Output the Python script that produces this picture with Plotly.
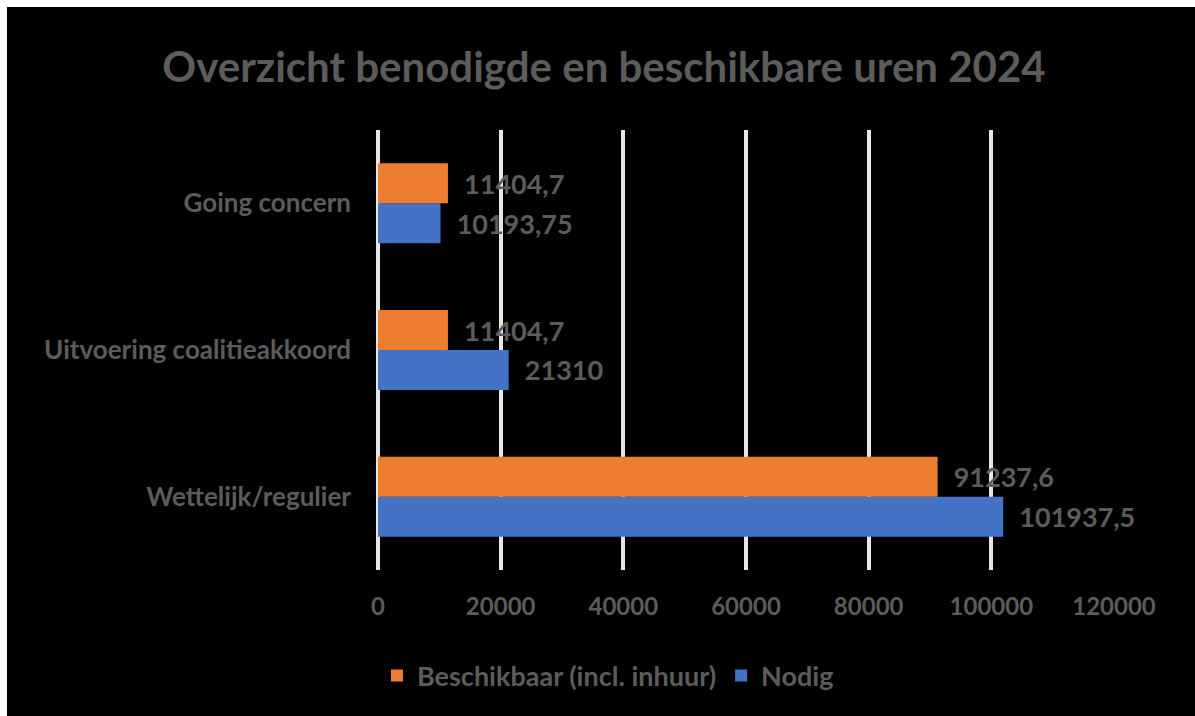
import plotly.graph_objects as go

categories = ["Wettelijk/regulier", "Uitvoering coalitieakkoord", "Going concern"]
nodig = [101937.5, 21310, 10193.75]
beschikbaar = [91237.6, 11404.7, 11404.7]
nodig_labels = ["101937,5", "21310", "10193,75"]
beschikbaar_labels = ["91237,6", "11404,7", "11404,7"]
x_ticks = [0, 20000, 40000, 60000, 80000, 100000, 120000]

GREY = "#5c5c5c"
FONT = "Lato"
PAD = "\u00a0\u00a0"
EXTRA = 30
W, H = 1188 + EXTRA, 709 + EXTRA

fig = go.Figure()
fig.add_trace(go.Bar(
    y=categories, x=nodig, orientation="h", name="Nodig",
    marker=dict(color="#4472C4", line=dict(width=0)),
    text=[PAD + t for t in nodig_labels], textposition="outside",
    textfont=dict(family=FONT, size=27, color=GREY, weight="bold"),
    cliponaxis=False, constraintext="none",
))
fig.add_trace(go.Bar(
    y=categories, x=beschikbaar, orientation="h", name="Beschikbaar (incl. inhuur)",
    marker=dict(color="#ED7D31", line=dict(width=0)),
    text=[PAD + t for t in beschikbaar_labels], textposition="outside",
    textfont=dict(family=FONT, size=27, color=GREY, weight="bold"),
    cliponaxis=False, constraintext="none",
))

fig.update_layout(
    width=W, height=H,
    paper_bgcolor="black", plot_bgcolor="black",
    margin=dict(l=371, r=81 + EXTRA, t=123, b=146 + EXTRA),
    barmode="group", bargap=0.455, bargroupgap=0,
    title=dict(text="Overzicht benodigde en beschikbare uren 2024",
               font=dict(family=FONT, size=42, color=GREY, weight="bold"),
               x=597 / W, xanchor="center", xref="container",
               y=1 - 60 / H, yanchor="middle", yref="container"),
    legend=dict(orientation="h", traceorder="reversed",
                x=601 / W, xanchor="center", xref="container",
                y=1 - 669 / H, yanchor="middle", yref="container",
                font=dict(family=FONT, size=27, color=GREY, weight="bold"),
                itemwidth=30, bgcolor="rgba(0,0,0,0)"),
    font=dict(family=FONT, color=GREY),
)
fig.update_xaxes(
    range=[0, 120000], tickvals=x_ticks, tickformat="d",
    showgrid=True, gridcolor="#e6e6e6", gridwidth=4,
    zeroline=True, zerolinecolor="#e6e6e6", zerolinewidth=4,
    showline=False, ticks="",
    tickfont=dict(family=FONT, size=24, color=GREY, weight="bold"),
    ticklabelstandoff=20,
)
fig.update_yaxes(
    type="category", categoryorder="array", categoryarray=categories,
    showgrid=False, zeroline=False, showline=False, ticks="",
    tickfont=dict(family=FONT, size=26, color=GREY, weight="bold"),
    ticklabelstandoff=26,
)

fig.write_html(
    "out.html",
    post_script="document.body.style.margin='7px 0 0 7px';"
                "document.body.style.overflow='hidden';"
                "document.documentElement.style.overflow='hidden';",
)
